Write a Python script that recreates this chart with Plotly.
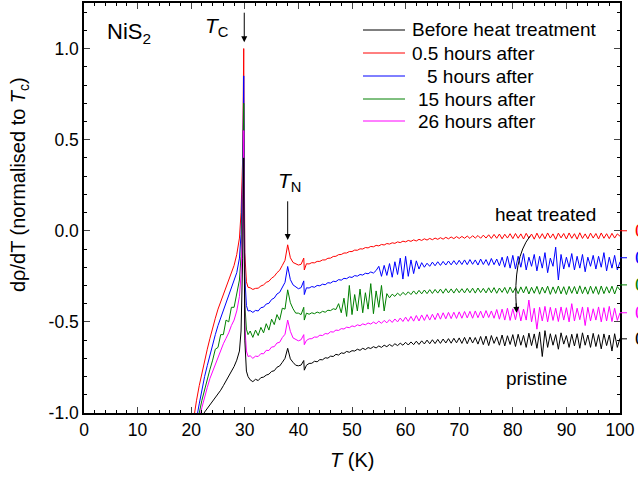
import plotly.graph_objects as go

# ---------------- data ----------------
T_low = [20.0, 20.5, 21.0, 21.5, 22.0, 22.5, 23.0, 23.5, 24.0, 24.5, 25.0, 25.5,
         26.0, 26.5, 27.0, 27.5, 28.0, 28.5, 29.0, 29.3, 29.6, 29.8, 30.0, 30.3, 30.6]

T_high = [31.0, 31.5, 32.0, 32.5, 33.0, 33.5, 34.0, 34.5, 35.0, 35.5,
          36.0, 36.5, 37.0, 37.5, 38.0, 38.5, 39.0, 39.5, 40.0, 40.5,
          41.0, 41.1, 41.5, 42.0, 42.5, 43.0, 43.5, 44.0, 44.5, 45.0, 45.5,
          46.0, 46.5, 47.0, 47.5, 48.0, 48.5, 49.0, 49.5, 50.0, 50.5,
          51.0, 51.5, 52.0, 52.5, 53.0, 53.5, 54.0, 54.5, 55.0, 55.5,
          56.0, 56.5, 57.0, 57.5, 58.0, 58.5, 59.0, 59.5, 60.0, 60.5,
          61.0, 61.5, 62.0, 62.5, 63.0, 63.5, 64.0, 64.5, 65.0, 65.5,
          66.0, 66.5, 67.0, 67.5, 68.0, 68.5, 69.0, 69.5, 70.0, 70.5,
          71.0, 71.5, 72.0, 72.5, 73.0, 73.5, 74.0, 74.5, 75.0, 75.5,
          76.0, 76.5, 77.0, 77.5, 78.0, 78.5, 79.0, 79.5, 80.0, 80.5,
          81.0, 81.5, 82.0, 82.5, 83.0, 83.5, 84.0, 84.5, 85.0, 85.5,
          86.0, 86.5, 87.0, 87.5, 88.0, 88.5, 89.0, 89.5, 90.0, 90.5,
          91.0, 91.5, 92.0, 92.5, 93.0, 93.5, 94.0, 94.5, 95.0, 95.5,
          96.0, 96.5, 97.0, 97.5, 98.0, 98.5, 99.0, 99.5, 100.0]

# --- 0.5 hours after (red)
red_low = [-1.12, -1.02, -0.93, -0.85, -0.78, -0.71, -0.65, -0.59, -0.53, -0.48, -0.43, -0.39,
           -0.35, -0.31, -0.27, -0.23, -0.19, -0.13, -0.04, 0.10, 0.40, 1.00, -0.12, -0.28, -0.31]
red_high = [-0.313, -0.322, -0.316, -0.315, -0.303, -0.297, -0.283, -0.277, -0.260, -0.250,
            -0.230, -0.217, -0.190, -0.162, -0.077, -0.148, -0.174, -0.180, -0.188, -0.184,
            -0.150, -0.215, -0.181, -0.182, -0.175, -0.176, -0.168, -0.168, -0.160, -0.160, -0.151,
            -0.150, -0.141, -0.140, -0.131, -0.130, -0.122, -0.122, -0.114, -0.114, -0.106,
            -0.107, -0.099, -0.100, -0.092, -0.094, -0.086, -0.088, -0.080, -0.083, -0.075,
            -0.078, -0.070, -0.073, -0.066, -0.069, -0.061, -0.065, -0.057, -0.061, -0.053,
            -0.058, -0.050, -0.056, -0.047, -0.053, -0.044, -0.051, -0.042, -0.049, -0.040,
            -0.047, -0.038, -0.046, -0.036, -0.044, -0.034, -0.043, -0.032, -0.042, -0.031,
            -0.041, -0.029, -0.042, -0.027, -0.040, -0.026, -0.041, -0.024, -0.040, -0.022,
            -0.042, -0.020, -0.041, -0.018, -0.044, -0.019, -0.040, -0.016, -0.043, -0.015,
            -0.041, -0.017, -0.045, -0.014, -0.040, -0.018, -0.046, -0.013, -0.042, -0.016,
            -0.044, -0.012, -0.040, -0.017, -0.047, -0.013, -0.039, -0.015, -0.045, -0.012,
            -0.041, -0.016, -0.046, -0.011, -0.042, -0.017, -0.044, -0.013, -0.040, -0.015,
            -0.045, -0.012, -0.041, -0.016, -0.043, -0.014, -0.040, -0.017, -0.030]

# --- 5 hours after (blue)
blue_low = [-1.25, -1.13, -1.03, -0.95, -0.87, -0.80, -0.74, -0.68, -0.62, -0.57, -0.52, -0.48,
            -0.44, -0.40, -0.36, -0.32, -0.28, -0.23, -0.15, -0.02, 0.30, 0.85, -0.25, -0.41, -0.44]
blue_high = [-0.438, -0.448, -0.437, -0.440, -0.422, -0.419, -0.402, -0.398, -0.377, -0.369,
             -0.347, -0.338, -0.307, -0.283, -0.196, -0.268, -0.297, -0.306, -0.318, -0.312,
             -0.275, -0.350, -0.313, -0.314, -0.306, -0.310, -0.300, -0.302, -0.293, -0.296, -0.285,
             -0.287, -0.277, -0.279, -0.268, -0.271, -0.261, -0.263, -0.253, -0.256, -0.246,
             -0.249, -0.240, -0.243, -0.233, -0.236, -0.226, -0.232, -0.218, -0.195, -0.250,
             -0.190, -0.245, -0.180, -0.255, -0.170, -0.240, -0.150, -0.265, -0.140, -0.250,
             -0.160, -0.235, -0.165, -0.210, -0.175, -0.200, -0.178, -0.195, -0.172, -0.192,
             -0.170, -0.190, -0.168, -0.188, -0.166, -0.187, -0.164, -0.186, -0.162, -0.185,
             -0.160, -0.186, -0.158, -0.184, -0.160, -0.188, -0.155, -0.185, -0.158, -0.190,
             -0.152, -0.186, -0.155, -0.192, -0.145, -0.200, -0.140, -0.205, -0.135, -0.210,
             -0.140, -0.200, -0.125, -0.215, -0.145, -0.195, -0.130, -0.220, -0.140, -0.205,
             -0.120, -0.230, -0.150, -0.195, -0.090, -0.270, -0.130, -0.210, -0.145, -0.200,
             -0.125, -0.215, -0.140, -0.205, -0.130, -0.225, -0.145, -0.195, -0.135, -0.210,
             -0.140, -0.200, -0.120, -0.220, -0.145, -0.205, -0.135, -0.215, -0.170]

# --- 15 hours after (green)
green_low = [-1.30, -1.20, -1.09, -1.00, -0.93, -0.87, -0.81, -0.76, -0.71, -0.65, -0.64, -0.57,
             -0.57, -0.49, -0.50, -0.42, -0.42, -0.35, -0.27, -0.14, 0.20, 0.70, -0.40, -0.54, -0.57]
green_high = [-0.550, -0.585, -0.545, -0.575, -0.530, -0.560, -0.510, -0.545, -0.485, -0.515,
              -0.460, -0.490, -0.425, -0.430, -0.324, -0.395, -0.428, -0.452, -0.452, -0.460,
              -0.420, -0.490, -0.452, -0.458, -0.450, -0.455, -0.446, -0.452, -0.442, -0.447, -0.436,
              -0.438, -0.428, -0.432, -0.400, -0.450, -0.370, -0.470, -0.300, -0.460, -0.350,
              -0.440, -0.320, -0.450, -0.340, -0.430, -0.290, -0.455, -0.330, -0.420, -0.300,
              -0.440, -0.345, -0.368, -0.348, -0.360, -0.342, -0.356, -0.338, -0.352, -0.335,
              -0.350, -0.330, -0.348, -0.327, -0.346, -0.325, -0.345, -0.323, -0.344, -0.322,
              -0.342, -0.320, -0.343, -0.318, -0.341, -0.319, -0.342, -0.317, -0.340, -0.318,
              -0.341, -0.316, -0.340, -0.315, -0.342, -0.314, -0.339, -0.316, -0.341, -0.313,
              -0.340, -0.312, -0.343, -0.314, -0.338, -0.311, -0.344, -0.309, -0.340, -0.312,
              -0.345, -0.308, -0.341, -0.306, -0.347, -0.310, -0.343, -0.305, -0.348, -0.309,
              -0.342, -0.304, -0.349, -0.308, -0.344, -0.303, -0.346, -0.307, -0.350, -0.305,
              -0.343, -0.306, -0.347, -0.302, -0.345, -0.308, -0.348, -0.304, -0.344, -0.306,
              -0.349, -0.303, -0.345, -0.307, -0.342, -0.304, -0.347, -0.306, -0.325]

# --- 26 hours after (magenta)
magenta_low = [-1.35, -1.24, -1.13, -1.04, -0.97, -0.91, -0.86, -0.81, -0.77, -0.73, -0.69, -0.66,
               -0.62, -0.59, -0.56, -0.52, -0.49, -0.44, -0.36, -0.24, 0.05, 0.55, -0.52, -0.66, -0.69]
magenta_high = [-0.686, -0.700, -0.688, -0.690, -0.674, -0.675, -0.656, -0.657, -0.638, -0.636,
                -0.616, -0.612, -0.586, -0.568, -0.490, -0.552, -0.588, -0.596, -0.604, -0.598,
                -0.570, -0.625, -0.602, -0.593, -0.592, -0.583, -0.584, -0.573, -0.575, -0.564, -0.566,
                -0.554, -0.556, -0.545, -0.547, -0.537, -0.539, -0.529, -0.532, -0.522, -0.526,
                -0.516, -0.521, -0.511, -0.516, -0.506, -0.512, -0.501, -0.510, -0.496, -0.508,
                -0.492, -0.505, -0.488, -0.503, -0.484, -0.500, -0.479, -0.498, -0.474, -0.497,
                -0.470, -0.496, -0.465, -0.495, -0.462, -0.492, -0.460, -0.490, -0.458, -0.488,
                -0.452, -0.485, -0.450, -0.483, -0.448, -0.482, -0.447, -0.481, -0.445, -0.480,
                -0.443, -0.478, -0.442, -0.480, -0.440, -0.477, -0.441, -0.479, -0.438, -0.476,
                -0.440, -0.480, -0.432, -0.485, -0.430, -0.490, -0.425, -0.492, -0.428, -0.488,
                -0.420, -0.495, -0.430, -0.490, -0.380, -0.500, -0.425, -0.540, -0.420, -0.495,
                -0.415, -0.500, -0.420, -0.492, -0.425, -0.498, -0.418, -0.490, -0.422, -0.500,
                -0.400, -0.495, -0.425, -0.488, -0.418, -0.520, -0.420, -0.495, -0.428, -0.490,
                -0.418, -0.500, -0.422, -0.495, -0.415, -0.498, -0.425, -0.492, -0.450]

# --- Before heat treatment (black)
black_low = [-1.30, -1.20, -1.13, -1.08, -1.03, -0.995, -0.975, -0.955, -0.94, -0.92, -0.895, -0.875,
             -0.85, -0.825, -0.80, -0.775, -0.745, -0.71, -0.66, -0.55, -0.15, 0.40, -0.60, -0.77, -0.80]
black_high = [-0.818, -0.828, -0.815, -0.822, -0.806, -0.803, -0.792, -0.787, -0.772, -0.768,
              -0.749, -0.742, -0.722, -0.700, -0.645, -0.703, -0.722, -0.738, -0.741, -0.737,
              -0.712, -0.765, -0.738, -0.728, -0.727, -0.716, -0.719, -0.707, -0.708, -0.697, -0.699,
              -0.688, -0.690, -0.678, -0.682, -0.670, -0.673, -0.662, -0.667, -0.658, -0.660,
              -0.650, -0.656, -0.645, -0.652, -0.641, -0.646, -0.636, -0.643, -0.632, -0.640,
              -0.628, -0.636, -0.624, -0.634, -0.620, -0.630, -0.617, -0.628, -0.612, -0.627,
              -0.610, -0.625, -0.606, -0.624, -0.604, -0.621, -0.600, -0.620, -0.598, -0.619,
              -0.596, -0.618, -0.594, -0.616, -0.592, -0.617, -0.590, -0.615, -0.588, -0.618,
              -0.585, -0.620, -0.584, -0.616, -0.586, -0.622, -0.580, -0.625, -0.578, -0.630,
              -0.575, -0.618, -0.582, -0.628, -0.572, -0.632, -0.576, -0.624, -0.570, -0.635,
              -0.568, -0.628, -0.574, -0.640, -0.562, -0.630, -0.566, -0.645, -0.555, -0.690,
              -0.548, -0.640, -0.565, -0.628, -0.570, -0.650, -0.560, -0.622, -0.575, -0.640,
              -0.568, -0.632, -0.565, -0.645, -0.560, -0.628, -0.572, -0.640, -0.563, -0.635,
              -0.570, -0.648, -0.566, -0.630, -0.572, -0.660, -0.565, -0.640, -0.590]

series_names = ["Before heat treatment", "0.5 hours after",
                "5 hours after", "15 hours after", "26 hours after"]
# zero level of each curve's own offset axis (right-hand side)
offset_zero = [-0.593, 0.0, -0.148, -0.297, -0.45]

y_tickvals = [-1.0, -0.5, 0.0, 0.5, 1.0]
y_ticktext = ["-1.0", "-0.5", "0.0", "0.5", "1.0"]

# ---------------- figure ----------------
FONT = "Arial, Liberation Sans, sans-serif"
colors = ["black", "#FF0000", "#0000FF", "#008000", "#FF00FF"]
lows = [black_low, red_low, blue_low, green_low, magenta_low]
highs = [black_high, red_high, blue_high, green_high, magenta_high]
for lo, hi in zip(lows, highs):
    assert len(lo) == len(T_low) and len(hi) == len(T_high), (len(lo), len(hi))

# plot-area geometry in pixels (for placing legend/labels)
L, R, TOP, BOT, W, H = 84, 18, 3, 66, 638, 479
PW, PH = W - L - R, H - TOP - BOT


def px_x(px):
    return (px - L) / PW


def px_y(py):
    return (H - BOT - py) / PH


fig = go.Figure()
draw_order = [1, 2, 3, 4, 0]  # black drawn last (on top)
for i in draw_order:
    fig.add_trace(go.Scatter(
        x=T_low + T_high, y=lows[i] + highs[i], mode="lines",
        name=series_names[i], showlegend=False,
        line=dict(color=colors[i], width=1),
    ))

ann = []
shapes = []
# legend drawn as line samples + labels (to match reference spacing)
leg_rows = [30, 53, 76, 99, 121]
leg_text_x = [410, 410, 425, 416, 416]
for i in range(5):
    shapes.append(dict(type="line", xref="paper", yref="paper",
                       x0=px_x(363), x1=px_x(405), y0=px_y(leg_rows[i]), y1=px_y(leg_rows[i]),
                       line=dict(color=colors[i], width=1)))
    ann.append(dict(x=px_x(leg_text_x[i]), y=px_y(leg_rows[i]), xref="paper", yref="paper",
                    text=series_names[i], showarrow=False, xanchor="left", yanchor="middle",
                    font=dict(size=19, color="black", family=FONT)))

ann.append(dict(x=3.9, y=1.088, xref="x", yref="y", text="NiS<sub>2</sub>", showarrow=False,
                xanchor="left", yanchor="middle", font=dict(size=22, color="black", family=FONT)))
ann.append(dict(x=24.8, y=1.12, xref="x", yref="y", text="<i>T</i><sub>C</sub>", showarrow=False,
                xanchor="center", yanchor="middle", font=dict(size=21, color="black", family=FONT)))
ann.append(dict(x=38.4, y=0.265, xref="x", yref="y", text="<i>T</i><sub>N</sub>", showarrow=False,
                xanchor="center", yanchor="middle", font=dict(size=21, color="black", family=FONT)))
# arrows
for (xt, yt, ya) in [(29.9, 1.035, 1.205), (38.0, -0.05, 0.17)]:
    ann.append(dict(x=xt, y=yt, ax=xt, ay=ya, xref="x", yref="y", axref="x", ayref="y",
                    text="", showarrow=True, arrowhead=2, arrowsize=1.2, arrowwidth=1,
                    arrowcolor="black", standoff=0))
ann.append(dict(x=80.7, y=-0.45, ax=80.62, ay=-0.39, xref="x", yref="y", axref="x", ayref="y",
                text="", showarrow=True, arrowhead=2, arrowsize=1.2, arrowwidth=1,
                arrowcolor="black", standoff=0))
ann.append(dict(x=95.9, y=0.088, xref="x", yref="y", text="heat treated", showarrow=False,
                xanchor="right", yanchor="middle", font=dict(size=19, color="black", family=FONT)))
ann.append(dict(x=84.5, y=-0.81, xref="x", yref="y", text="pristine", showarrow=False,
                xanchor="center", yanchor="middle", font=dict(size=19, color="black", family=FONT)))
# axis titles as annotations (placed like the reference)
ann.append(dict(x=px_x(20), y=px_y(185), xref="paper", yref="paper", textangle=-90,
                text="dρ/dT (normalised to <i>T</i><sub>c</sub>)", showarrow=False,
                xanchor="center", yanchor="middle", font=dict(size=20, color="black", family=FONT)))
ann.append(dict(x=px_x(352), y=px_y(460), xref="paper", yref="paper",
                text="<i>T</i> (K)", showarrow=False,
                xanchor="center", yanchor="middle", font=dict(size=20, color="black", family=FONT)))

shapes.append(dict(type="path", xref="x", yref="y",
                   path="M 83.2,-0.03 Q 80.0,-0.15 80.68,-0.43",
                   line=dict(color="black", width=1)))
for i in range(5):
    shapes.append(dict(type="line", xref="paper", yref="y", x0=1.0, x1=px_x(627),
                       y0=offset_zero[i], y1=offset_zero[i], line=dict(color=colors[i], width=1)))
    ann.append(dict(x=px_x(633), y=offset_zero[i], xref="paper", yref="y", text="0.0",
                    showarrow=False, xanchor="left", yanchor="middle",
                    font=dict(size=19, color=colors[i], family=FONT)))

fig.update_layout(
    width=W, height=H,
    margin=dict(l=L, r=R, t=TOP, b=BOT, autoexpand=False),
    paper_bgcolor="white", plot_bgcolor="white",
    font=dict(family=FONT, size=17, color="black"),
    showlegend=False,
    annotations=ann, shapes=shapes,
)
fig.update_xaxes(range=[0, 100], dtick=10, tick0=0, ticks="inside", ticklen=6, tickwidth=1,
                 showline=True, linecolor="black", linewidth=1.5, mirror="allticks",
                 showgrid=False, zeroline=False, automargin=False,
                 tickfont=dict(size=17.5, color="black", family=FONT),
                 minor=dict(dtick=2, ticks="inside", ticklen=3, tickcolor="black", showgrid=False))
fig.update_yaxes(range=[-1.0, 1.25], tickvals=y_tickvals, ticktext=y_ticktext,
                 ticks="inside", ticklen=6, tickwidth=1,
                 showline=True, linecolor="black", linewidth=1.5, mirror="allticks",
                 showgrid=False, zeroline=False, automargin=False,
                 tickfont=dict(size=17.5, color="black", family=FONT),
                 minor=dict(tickvals=[round(-1.0 + 0.1 * k, 1) for k in range(23)],
                            ticks="inside", ticklen=3, tickcolor="black", showgrid=False))

# remove the browser's default 8px page margin so the figure sits at the page corner
fig.write_html("out.html", config={"displayModeBar": False},
               post_script="document.body.style.margin='0';document.body.style.overflow='hidden';")
